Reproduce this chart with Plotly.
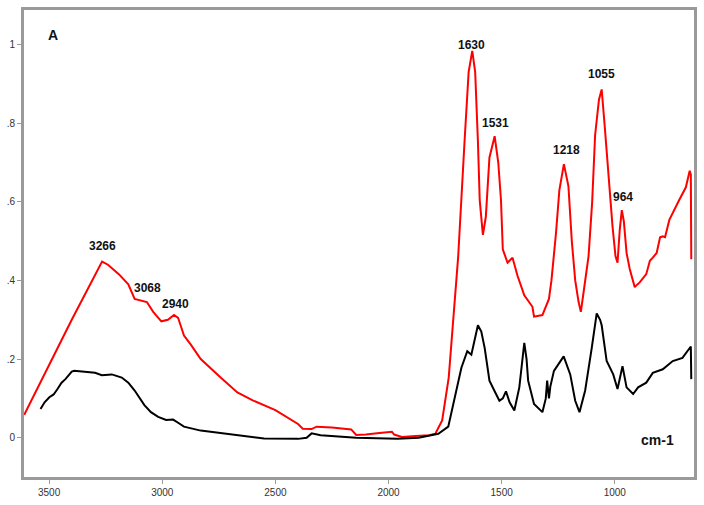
import plotly.graph_objects as go

# FTIR spectra, wavenumber (cm-1) vs absorbance
red_x = [3610, 3500, 3400, 3266, 3240, 3192, 3150, 3122, 3090, 3068, 3040, 3004, 2975,
         2948, 2930, 2904, 2873, 2830, 2742, 2668, 2600, 2500, 2400, 2379, 2340, 2318,
         2250, 2165, 2143, 2100, 2040, 1985, 1975, 1941, 1880, 1820, 1793, 1763, 1734,
         1692, 1664, 1646, 1630, 1617, 1605, 1597, 1583, 1570, 1554, 1531, 1515, 1503,
         1495, 1474, 1452, 1430, 1400, 1364, 1357, 1320, 1291, 1280, 1260, 1245, 1225,
         1205, 1190, 1175, 1160, 1150, 1138, 1116, 1100, 1087, 1070, 1058, 1044, 1029,
         1010, 997, 988, 978, 969, 960, 948, 934, 912, 900, 890, 861, 845, 832, 815,
         800, 788, 778, 759, 716, 686, 669, 664, 662]
red_y = [0.058, 0.185, 0.30, 0.448, 0.44, 0.416, 0.39, 0.353, 0.348, 0.345, 0.32, 0.296, 0.30,
         0.312, 0.305, 0.26, 0.236, 0.200, 0.153, 0.115, 0.095, 0.07, 0.035, 0.023, 0.022, 0.028,
         0.026, 0.021, 0.007, 0.008, 0.012, 0.015, 0.008, 0.002, 0.004, 0.006, 0.01, 0.044, 0.153,
         0.462, 0.754, 0.93, 0.984, 0.93, 0.754, 0.604, 0.516, 0.562, 0.713, 0.767, 0.70, 0.604,
         0.479, 0.445, 0.458, 0.412, 0.362, 0.333, 0.308, 0.312, 0.353, 0.40, 0.52, 0.63, 0.696,
         0.64, 0.50, 0.40, 0.345, 0.32, 0.37, 0.462, 0.60, 0.77, 0.86, 0.886, 0.788, 0.671,
         0.537, 0.462, 0.445, 0.53, 0.579, 0.55, 0.47, 0.429, 0.383, 0.39, 0.395, 0.416, 0.45, 0.458, 0.47,
         0.51, 0.512, 0.51, 0.554, 0.604, 0.637, 0.679, 0.67, 0.454]

black_x = [3538, 3520, 3499, 3480, 3463, 3445, 3428, 3400, 3389, 3341, 3297, 3267, 3223,
           3179, 3150, 3122, 3079, 3050, 3018, 2983, 2952, 2930, 2904, 2830, 2685, 2550,
           2400, 2362, 2340, 2320, 2300, 2143, 1960, 1867, 1780, 1736, 1707, 1678, 1652,
           1634, 1605, 1590, 1575, 1554, 1525, 1510, 1495, 1481, 1465, 1444, 1422, 1400,
           1390, 1383, 1357, 1320, 1305, 1299, 1291, 1285, 1269, 1226, 1197, 1175, 1156,
           1131, 1102, 1080, 1065, 1058, 1036, 1007, 988, 966, 948, 919, 897, 861, 832,
           788, 744, 701, 664, 662]
black_y = [0.073, 0.09, 0.103, 0.11, 0.124, 0.14, 0.149, 0.168, 0.17, 0.168, 0.165, 0.159, 0.161,
           0.153, 0.14, 0.12, 0.083, 0.065, 0.053, 0.045, 0.046, 0.038, 0.028, 0.018, 0.008, -0.002,
           -0.003, 0.0, 0.011, 0.008, 0.006, 0.0, -0.003, 0.0, 0.01, 0.028, 0.103, 0.178, 0.22,
           0.211, 0.286, 0.27, 0.228, 0.145, 0.111, 0.094, 0.10, 0.118, 0.09, 0.069, 0.128, 0.241,
           0.2, 0.145, 0.086, 0.065, 0.10, 0.145, 0.10, 0.13, 0.17, 0.207, 0.161, 0.094, 0.065,
           0.12, 0.228, 0.316, 0.30, 0.286, 0.195, 0.161, 0.124, 0.182, 0.128, 0.111, 0.128, 0.14, 0.165,
           0.174, 0.195, 0.203, 0.232, 0.149]

x_ticks = [3500, 3000, 2500, 2000, 1500, 1000]
y_ticks = [0, 0.2, 0.4, 0.6, 0.8, 1]
y_tick_text = ["0", ".2", ".4", ".6", ".8", "1"]

peak_labels = ["3266", "3068", "2940", "1630", "1531", "1218", "1055", "964"]
peak_x = [3266, 3067, 2940, 1634, 1529, 1215, 1057, 963]
peak_y = [0.487, 0.381, 0.34, 1.0, 0.80, 0.733, 0.926, 0.612]

fig = go.Figure()

fig.add_trace(go.Scatter(
    x=red_x, y=red_y, mode="lines",
    line=dict(color="#ff0000", width=2),
    showlegend=False
))

fig.add_trace(go.Scatter(
    x=black_x, y=black_y, mode="lines",
    line=dict(color="#000000", width=2),
    showlegend=False
))

for lab, px, py in zip(peak_labels, peak_x, peak_y):
    fig.add_annotation(x=px, y=py, text=lab, showarrow=False,
                       font=dict(family="Liberation Sans, Arial", size=12, color="#111111"),
                       xanchor="center", yanchor="middle")

fig.add_annotation(x=3481, y=1.024, text="A", showarrow=False,
                   font=dict(family="Liberation Sans, Arial", size=14, color="#111111"))
fig.add_annotation(x=813, y=-0.005, text="cm-1", showarrow=False,
                   font=dict(family="Liberation Sans, Arial", size=14, color="#111111"))

axis_style = dict(
    showgrid=False, zeroline=False,
    showline=True, mirror=True, linecolor="#9a9a9a", linewidth=3,
    ticks="outside", ticklen=4, tickcolor="#9a9a9a", tickwidth=1,
    tickfont=dict(family="Liberation Sans, Arial", size=10, color="#333333"),
)

fig.update_layout(
    width=704, height=505,
    margin=dict(l=22, r=7, t=7, b=24),
    paper_bgcolor="white", plot_bgcolor="white",
    font=dict(family="Liberation Sans, Arial", weight="bold"),
    xaxis=dict(range=[3611, 650], tickvals=x_ticks, **axis_style),
    yaxis=dict(range=[-0.1, 1.088], tickvals=y_ticks, ticktext=y_tick_text, **axis_style),
)
fig.update_xaxes(tickfont=dict(weight="normal"))
fig.update_yaxes(tickfont=dict(weight="normal"))

# page has a default 8px body margin; drop it so the chart sits at the window edge
fig.write_html("out.html", config={"displayModeBar": False},
               post_script="document.body.style.margin='0';")
